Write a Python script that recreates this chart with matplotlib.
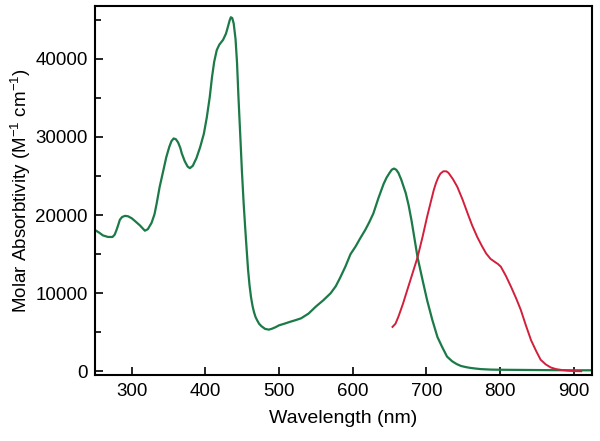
import matplotlib.pyplot as plt
from matplotlib.ticker import MultipleLocator

plt.rcParams["font.family"] = ["Liberation Sans", "DejaVu Sans"]

# absorption (green)
abs_wl = [250, 256, 261, 268, 274, 277, 279.5, 282, 284, 287, 291, 295, 300, 305, 311, 315, 318,
          322, 327, 331, 334, 338, 343, 347, 351, 354, 357, 360, 363, 366, 368, 372, 376, 379,
          383, 388, 393, 398, 402, 406, 409, 412, 415.5, 419, 424, 428, 431, 433, 434.6, 436.5,
          438.5, 441, 443, 445, 447.5, 449.6, 452, 454, 456, 458, 460, 462, 464, 466, 468, 470,
          473, 476, 481, 486, 490, 495, 500, 507, 515, 522, 530, 540, 550, 560, 570, 577, 583,
          590, 597, 604, 610, 617, 622, 628, 635, 642, 646, 650, 653, 656, 659, 662, 666, 672,
          676, 680, 684, 688, 695, 701, 708, 715, 721, 728, 735, 741, 747, 754, 760, 767, 774,
          787, 800, 850, 900, 925]
abs_val = [18100, 17750, 17400, 17200, 17200, 17500, 18100, 18800, 19400, 19750, 19900, 19850,
           19600, 19200, 18700, 18300, 18000, 18200, 19000, 20100, 21500, 23600, 25700, 27400,
           28700, 29450, 29800, 29700, 29300, 28600, 27900, 26900, 26200, 26000, 26300, 27300,
           28700, 30400, 32500, 35100, 37600, 39600, 41100, 41800, 42400, 43200, 44200, 44900,
           45300, 45200, 44500, 42500, 39500, 35000, 30000, 25700, 21500, 18500, 15700, 13000,
           11000, 9500, 8400, 7600, 7000, 6600, 6100, 5800, 5450, 5350, 5450, 5650, 5900, 6100,
           6350, 6550, 6800, 7400, 8300, 9100, 10000, 10900, 12000, 13400, 15000, 16000, 17000,
           18100, 19000, 20200, 22200, 24000, 24800, 25400, 25800, 25950, 25800, 25400, 24500,
           22800, 21200, 19200, 16900, 14600, 11600, 9100, 6600, 4400, 3200, 1900, 1300, 950,
           700, 550, 450, 370, 300, 240, 220, 180, 150, 150]

# emission (red)
em_wl = [654, 658, 662, 668, 674, 681, 688, 695, 701, 706, 710, 713, 716, 719, 723, 727, 730,
         736, 742, 749, 756, 762, 769, 775, 781, 787, 793, 797, 801, 808, 815, 822, 828, 835,
         842, 849, 855, 862, 869, 876, 883, 892, 900, 910]
em_val = [5700, 6100, 7000, 8600, 10400, 12500, 14600, 17300, 19800, 21700, 23200, 24100, 24800,
          25300, 25600, 25600, 25400, 24600, 23600, 22000, 20200, 18700, 17200, 16100, 15100,
          14400, 14000, 13750, 13400, 12200, 10800, 9300, 7900, 5900, 4000, 2600, 1500, 900,
          500, 300, 200, 100, 50, 30]

fig = plt.figure(figsize=(6, 4.41), dpi=100)
ax = fig.add_axes([0.158, 0.1497, 0.829, 0.836])

ax.plot(abs_wl, abs_val, color="#1b7a47", lw=1.6)
ax.plot(em_wl, em_val, color="#d21f3c", lw=1.4)

ax.set_xlim(250, 925)
ax.set_ylim(-450, 46700)
ax.xaxis.set_major_locator(MultipleLocator(100))
ax.yaxis.set_major_locator(MultipleLocator(10000))
ax.yaxis.set_minor_locator(MultipleLocator(5000))
ax.tick_params(which="both", direction="in", top=False, right=False, labelsize=13.5, width=1.2)
ax.tick_params(axis="x", pad=6)
ax.tick_params(axis="y", pad=5)
ax.tick_params(which="major", length=6)
ax.tick_params(which="minor", length=4)
for s in ax.spines.values():
    s.set_linewidth(1.5)

ax.set_xlabel("Wavelength (nm)", fontsize=14, labelpad=7)
ax.set_ylabel(r"Molar Absorbtivity (M$^{\mathregular{-1}}$ cm$^{\mathregular{-1}}$)", fontsize=13.5,
              labelpad=2)

fig.savefig("out.png", dpi=100)
